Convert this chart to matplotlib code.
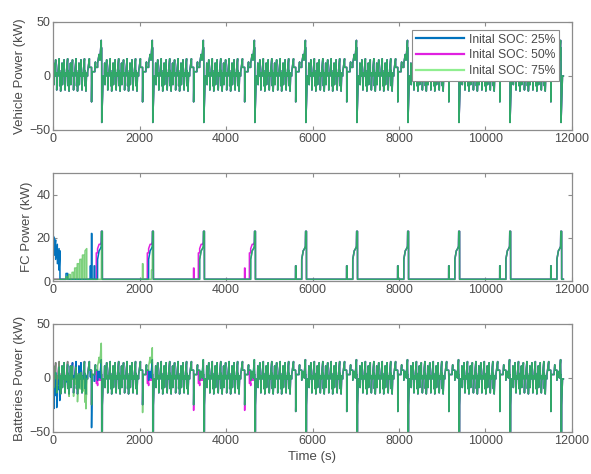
import numpy as np
import matplotlib
matplotlib.use("Agg")
import matplotlib.pyplot as plt

# ---------------- data ----------------
cycle_len = 1180          # one NEDC cycle (s)
n_cycles = 10

# one ECE-15 urban sub-cycle: time (s) and vehicle power (kW)
ece_t = [0, 11, 11.5, 15, 15.5, 23, 23.5, 28, 49, 49.5, 61, 61.5, 85, 85.5, 96,
         117, 117.5, 143, 143.5, 155, 155.5, 163, 163.5, 176, 176.5, 188]
ece_kw = [0, 0, 5, 12, 1.5, 1.5, -8, 0, 0, 6, 15, 3, 3, -13, 0,
          0, 5, 16, 5, 5, -9, -1, 3, 3, -14, 0]
ece_starts = [0, 195, 390, 585]

# extra-urban part (starts at 780 s)
eudc_start = 780
eudc_t = [0, 20, 20.5, 61, 61.5, 111, 111.5, 119, 119.5, 188, 188.5, 201, 201.5,
          251, 251.5, 286, 286.5, 316, 316.5, 336, 336.5, 346, 346.5, 380, 400]
eudc_kw = [0, 0, 4, 16, 8, 8, -24, -2, 4, 4, 6, 13, 8,
           8, 12, 20, 15, 15, 22, 33, 26, 26, -43, 0, 0]

# fuel-cell power patterns within one cycle (s, kW)
fc_main_t = [0, 1030, 1031, 1066, 1096, 1116, 1121, 1140, 1141, 1180]
fc_main_kw = [0.8, 0.8, 10, 14, 15, 16, 23, 23, 0.8, 0.8]

fc_full_t = [0, 888, 889, 899, 900, 1030, 1031, 1066, 1096, 1116, 1121, 1140, 1141, 1180]
fc_full_kw = [0.8, 0.8, 7, 7, 0.8, 0.8, 10, 14, 15, 16, 23, 23, 0.8, 0.8]

fc25_c1_t = [0, 30, 31, 60, 61, 100, 101, 140, 141, 160, 161, 300, 301, 340, 341,
             860, 861, 870, 871, 888, 889, 899, 900, 950, 951, 965, 966,
             1030, 1031, 1066, 1096, 1116, 1121, 1140, 1141, 1180]
fc25_c1_kw = [21, 20, 12, 19, 10, 17, 8, 15, 5, 14, 0.8, 0.8, 3.5, 3.5, 0.8,
              0.8, 7, 7, 0.8, 0.8, 22, 22, 0.8, 0.8, 7, 7, 0.8,
              0.8, 10, 14, 15, 16, 23, 23, 0.8, 0.8]

fc50_early_t = [0, 1000, 1001, 1030, 1031, 1066, 1096, 1116, 1121, 1140, 1141, 1180]
fc50_early_kw = [0.8, 0.8, 13, 13, 15, 17, 17, 18, 23, 23, 0.8, 0.8]
fc50_early_s_t = [0, 888, 889, 899, 900, 1000, 1001, 1030, 1031, 1066, 1096, 1116,
                  1121, 1140, 1141, 1180]
fc50_early_s_kw = [0.8, 0.8, 6, 6, 0.8, 0.8, 13, 13, 15, 17, 17, 18, 23, 23, 0.8, 0.8]

fc75_c1_t = [0, 300, 301, 330, 331, 360, 361, 400, 401, 440, 441, 480, 481, 500, 501,
             540, 541, 560, 561, 600, 601, 620, 621, 660, 661, 680, 681, 720, 721,
             740, 741, 780, 781, 1118, 1121, 1140, 1141, 1180]
fc75_c1_kw = [0.8, 0.8, 2, 2, 0.8, 0.8, 3, 3, 0.8, 0.8, 4, 4, 0.8, 0.8, 6,
              6, 0.8, 0.8, 8, 8, 0.8, 0.8, 10, 10, 0.8, 0.8, 12, 12, 0.8,
              0.8, 14, 15, 0.8, 0.8, 23, 23, 0.8, 0.8]
fc75_c2_t = [0, 888, 889, 899, 900, 1096, 1097, 1116, 1121, 1140, 1141, 1180]
fc75_c2_kw = [0.8, 0.8, 8, 8, 0.8, 0.8, 5, 5, 23, 23, 0.8, 0.8]

labels = ["Inital SOC: 25%", "Inital SOC: 50%", "Inital SOC: 75%"]
xticks = [0, 2000, 4000, 6000, 8000, 10000, 12000]

# ---------------- assemble series ----------------
cyc_t = []
cyc_kw = []
for s in ece_starts:
    cyc_t += [s + t for t in ece_t]
    cyc_kw += list(ece_kw)
cyc_t += [eudc_start + t for t in eudc_t]
cyc_kw += list(eudc_kw)

veh_t = np.concatenate([np.array(cyc_t) + i * cycle_len for i in range(n_cycles)])
veh_kw = np.tile(cyc_kw, n_cycles)

pat = {
    "main": (fc_main_t, fc_main_kw),
    "full": (fc_full_t, fc_full_kw),
    "b1": (fc25_c1_t, fc25_c1_kw),
    "m_e": (fc50_early_t, fc50_early_kw),
    "m_es": (fc50_early_s_t, fc50_early_s_kw),
    "g1": (fc75_c1_t, fc75_c1_kw),
    "g2": (fc75_c2_t, fc75_c2_kw),
}
seq25 = ["b1", "main", "main", "main"] + ["full"] * 6
seq50 = ["m_e", "m_e", "m_es", "m_es"] + ["full"] * 6
seq75 = ["g1", "g2", "main", "main"] + ["full"] * 6


def build(seq):
    ts, ks = [], []
    for i, name in enumerate(seq):
        t, k = pat[name]
        ts.append(np.array(t, float) + i * cycle_len)
        ks.append(np.array(k, float))
    return np.concatenate(ts), np.concatenate(ks)


fc = [build(s) for s in (seq25, seq50, seq75)]


def battery(fc_t, fc_kw):
    tt = np.union1d(veh_t, fc_t)
    return tt, np.interp(tt, veh_t, veh_kw) - np.interp(tt, fc_t, fc_kw)


bat = [battery(*f) for f in fc]

# ---------------- drawing ----------------
plt.rcParams["font.family"] = ["Liberation Sans", "DejaVu Sans"]
txt = "#4a4a4a"
edge = "#8c8c8c"
colors = ["#0072BD", "#E020E0", "#46be46"]
alphas = [1.0, 1.0, 0.7]
lw = 1.1
order = [1, 0, 2]   # magenta drawn first, then blue, green on top

fig = plt.figure(figsize=(5.91, 4.74), dpi=100)
W, H = 591, 474
def ax_at(top, bottom, left=53, right=572):
    return fig.add_axes([left / W, 1 - bottom / H, (right - left) / W, (bottom - top) / H])

ax1 = ax_at(22, 130)
ax2 = ax_at(173, 281)
ax3 = ax_at(324, 432)

lines = {}
for i in order:
    lines[i], = ax1.plot(veh_t, veh_kw, color=colors[i], alpha=alphas[i], lw=lw, label=labels[i])
    ax2.plot(fc[i][0], fc[i][1], color=colors[i], alpha=alphas[i], lw=lw)
    ax3.plot(bat[i][0], bat[i][1], color=colors[i], alpha=alphas[i], lw=lw)

for ax, yl, lim, yt in [(ax1, "Vehicle Power (kW)", (-50, 50), [-50, 0, 50]),
                        (ax2, "FC Power (kW)", (0, 50), [0, 20, 40]),
                        (ax3, "Batteries Power (kW)", (-50, 50), [-50, 0, 50])]:
    ax.set_xlim(0, 12000)
    ax.set_ylim(*lim)
    ax.set_yticks(yt)
    ax.set_xticks(xticks)
    ax.set_xticklabels([str(x) for x in xticks])
    ax.tick_params(direction="in", length=3, width=0.8, top=True, right=True,
                   colors=edge, labelcolor=txt, labelsize=9, pad=2)
    for sp in ax.spines.values():
        sp.set_color(edge)
        sp.set_linewidth(0.9)
    ax.set_ylabel(yl, fontsize=9.5, color=txt, labelpad=2)

ax3.set_xlabel("Time (s)", fontsize=9.5, color=txt, labelpad=3)

handles = [lines[0], lines[1], lines[2]]
leg = ax1.legend(handles, labels, loc="upper right", bbox_to_anchor=(0.975, 0.925),
                 fontsize=8.7, frameon=True, fancybox=False, framealpha=1.0,
                 handlelength=4.0, handletextpad=0.4, borderpad=0.3,
                 labelspacing=0.3, borderaxespad=0)
leg.get_frame().set_edgecolor(edge)
leg.get_frame().set_linewidth(0.8)
for t in leg.get_texts():
    t.set_color(txt)
for h in leg.legend_handles:
    h.set_alpha(1.0)
    h.set_linewidth(1.6)
leg.legend_handles[2].set_color("#90ee90")

fig.savefig("out.png", dpi=100)
